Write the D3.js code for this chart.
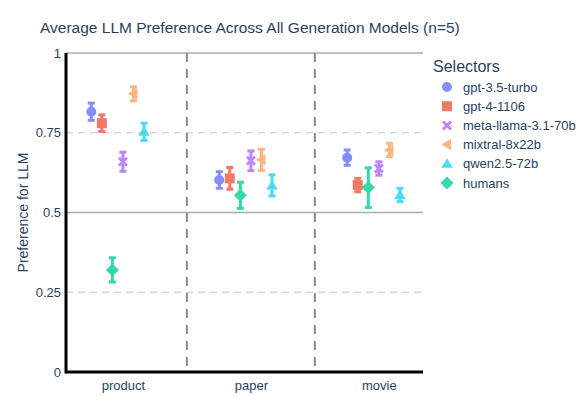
<!DOCTYPE html>
<html>
<head>
<meta charset="utf-8">
<script src="https://cdn.jsdelivr.net/npm/d3@7"></script>
<style>
  body { margin: 0; background: #fff; }
  svg { font-family: "Liberation Sans", Arial, sans-serif; }
</style>
</head>
<body>
<script>
const categories = ['product', 'paper', 'movie'];
const selectors = ['gpt-3.5-turbo', 'gpt-4-1106', 'meta-llama-3.1-70b', 'mixtral-8x22b', 'qwen2.5-72b', 'humans'];
const colors = ['#636efa', '#EF553B', '#ab63fa', '#FFA15A', '#19d3f3', '#00cc96'];
const symbols = ['circle', 'square', 'x', 'triangle-left', 'triangle-up', 'diamond'];
// slot within each category group (humans sits between gpt-4 and llama)
const slots = [-3, -2, 0, 1, 2, -1];

// mean per category (product, paper, movie)
const gpt35 = [0.816, 0.602, 0.672];
const gpt4 = [0.780, 0.607, 0.586];
const llama = [0.659, 0.662, 0.638];
const mixtral = [0.872, 0.665, 0.696];
const qwen = [0.753, 0.585, 0.555];
const humans = [0.320, 0.554, 0.578];
// error (+/-)
const gpt35Err = [0.027, 0.026, 0.024];
const gpt4Err = [0.026, 0.034, 0.021];
const llamaErr = [0.030, 0.031, 0.021];
const mixtralErr = [0.022, 0.033, 0.021];
const qwenErr = [0.027, 0.033, 0.021];
const humansErr = [0.038, 0.041, 0.062];

const means = [gpt35, gpt4, llama, mixtral, qwen, humans];
const errs = [gpt35Err, gpt4Err, llamaErr, mixtralErr, qwenErr, humansErr];

const yTicks = [0, 0.25, 0.5, 0.75, 1];
const yTickLabels = ['0', '0.25', '0.5', '0.75', '1'];

const W = 580, H = 396;
const margin = { top: 53, right: 157, bottom: 24, left: 66 };
const textColor = '#2a3f5f';

const svg = d3.select('body').append('svg')
    .attr('width', W)
    .attr('height', H);

const x = d3.scaleLinear()
    .domain([-0.445, 2.345])
    .range([margin.left, W - margin.right]);
const y = d3.scaleLinear()
    .domain([0, 1])
    .range([H - margin.bottom, margin.top]);
const slotW = 0.0825;

// horizontal grid
svg.append('g')
    .selectAll('line')
    .data(yTicks.filter(t => t > 0))
    .enter().append('line')
    .attr('x1', x.range()[0])
    .attr('x2', x.range()[1])
    .attr('y1', d => y(d))
    .attr('y2', d => y(d))
    .attr('stroke', d => (d === 0.5 || d === 1) ? '#a8adb6' : '#d8d8d8')
    .attr('stroke-width', 1.5)
    .attr('stroke-dasharray', d => (d === 0.5 || d === 1) ? null : '7,5');

// category separators
svg.append('g')
    .selectAll('line')
    .data([0.5, 1.5])
    .enter().append('line')
    .attr('x1', d => x(d))
    .attr('x2', d => x(d))
    .attr('y1', y(1))
    .attr('y2', y(0))
    .attr('stroke', '#8a8a8a')
    .attr('stroke-width', 2)
    .attr('stroke-dasharray', '9,7');

// y axis tick labels
svg.append('g')
    .attr('transform', `translate(${margin.left}, 0)`)
    .call(d3.axisLeft(y).tickValues(yTicks).tickFormat((d, i) => yTickLabels[i]).tickSize(0).tickPadding(5))
    .call(g => g.select('.domain').remove())
    .selectAll('text')
    .attr('fill', textColor)
    .style('font-size', '13px');

// x axis tick labels
svg.append('g')
    .attr('transform', `translate(0, ${y(0)})`)
    .call(d3.axisBottom(x).tickValues([0, 1, 2]).tickFormat(i => categories[i]).tickSize(0).tickPadding(9))
    .call(g => g.select('.domain').remove())
    .selectAll('text')
    .attr('fill', textColor)
    .style('font-size', '13px');

// axis lines
svg.append('line')
    .attr('x1', x.range()[0]).attr('x2', x.range()[0])
    .attr('y1', y(1)).attr('y2', y(0) + 1.5)
    .attr('stroke', '#000').attr('stroke-width', 3);
svg.append('line')
    .attr('x1', x.range()[0]).attr('x2', x.range()[1])
    .attr('y1', y(0)).attr('y2', y(0))
    .attr('stroke', '#000').attr('stroke-width', 3);

function symbolPath(sym, s) {
    const h = s / 2;
    switch (sym) {
        case 'circle': return d3.symbol(d3.symbolCircle, s * s * 0.785)();
        case 'square': return `M${-h},${-h}H${h}V${h}H${-h}Z`;
        case 'diamond': return `M0,${-h * 1.3}L${h * 1.3},0L0,${h * 1.3}L${-h * 1.3},0Z`;
        case 'triangle-up': return `M0,${-h * 1.1}L${h * 1.15},${h * 0.8}L${-h * 1.15},${h * 0.8}Z`;
        case 'triangle-left': return `M${-h * 1.1},0L${h * 0.8},${-h * 1.15}L${h * 0.8},${h * 1.15}Z`;
        case 'x': {
            const a = h * 0.4, b = h;
            return `M${-b},${-b + a}L${-b + a},${-b}L0,${-a}L${b - a},${-b}L${b},${-b + a}L${a},0L${b},${b - a}L${b - a},${b}L0,${a}L${-b + a},${b}L${-b},${b - a}L${-a},0Z`;
        }
    }
}

// series
selectors.forEach((name, si) => {
    const g = svg.append('g').attr('opacity', 0.78);
    const pts = categories.map((c, ci) => ({ cx: x(ci + slots[si] * slotW), m: means[si][ci], e: errs[si][ci] }));
    g.selectAll('line.bar').data(pts).enter().append('line')
        .attr('x1', d => d.cx).attr('x2', d => d.cx)
        .attr('y1', d => y(d.m + d.e)).attr('y2', d => y(d.m - d.e))
        .attr('stroke', colors[si]).attr('stroke-width', 3);
    g.selectAll('line.capT').data(pts).enter().append('line')
        .attr('x1', d => d.cx - 3.5).attr('x2', d => d.cx + 3.5)
        .attr('y1', d => y(d.m + d.e)).attr('y2', d => y(d.m + d.e))
        .attr('stroke', colors[si]).attr('stroke-width', 3);
    g.selectAll('line.capB').data(pts).enter().append('line')
        .attr('x1', d => d.cx - 3.5).attr('x2', d => d.cx + 3.5)
        .attr('y1', d => y(d.m - d.e)).attr('y2', d => y(d.m - d.e))
        .attr('stroke', colors[si]).attr('stroke-width', 3);
    g.selectAll('path').data(pts).enter().append('path')
        .attr('transform', d => `translate(${d.cx},${y(d.m)})`)
        .attr('d', symbolPath(symbols[si], 10))
        .attr('fill', colors[si]);
});

// title
svg.append('text')
    .attr('x', 40).attr('y', 33)
    .attr('fill', textColor)
    .style('font-size', '15.5px')
    .text('Average LLM Preference Across All Generation Models (n=5)');

// y title
svg.append('text')
    .attr('transform', `translate(28, ${(y(0) + y(1)) / 2}) rotate(-90)`)
    .attr('text-anchor', 'middle')
    .attr('fill', textColor)
    .style('font-size', '14px')
    .text('Preference for LLM');

// legend
const legend = svg.append('g').attr('transform', 'translate(433, 0)');
legend.append('text')
    .attr('x', 0).attr('y', 72)
    .attr('fill', textColor)
    .style('font-size', '16px')
    .text('Selectors');
const items = legend.selectAll('g.item')
    .data(selectors)
    .enter().append('g')
    .attr('transform', (d, i) => `translate(0, ${87 + i * 19.2})`);
items.append('path')
    .attr('transform', 'translate(14, 0)')
    .attr('d', (d, i) => symbolPath(symbols[i], 10))
    .attr('fill', (d, i) => colors[i])
    .attr('opacity', 0.78);
items.append('text')
    .attr('x', 30).attr('y', 4.5)
    .attr('fill', textColor)
    .style('font-size', '13px')
    .text(d => d);
</script>
</body>
</html>
